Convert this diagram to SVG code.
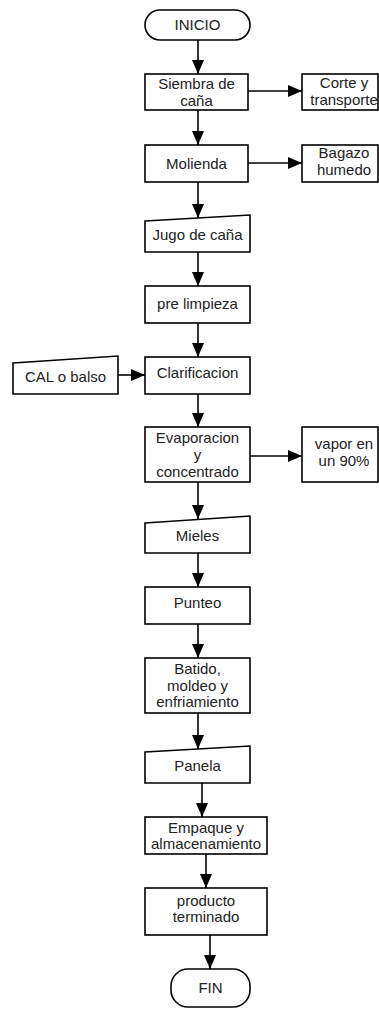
<svg xmlns="http://www.w3.org/2000/svg" width="379" height="1009" viewBox="0 0 379 1009">
<style>
.s{fill:#fff;stroke:#000;stroke-width:1.6}
.t{font-family:"Liberation Sans",Arial,sans-serif;font-size:15px;fill:#222;text-anchor:middle}
.c line{stroke:#000;stroke-width:1.6;marker-end:url(#ah)}
</style>
<defs>
<marker id="ah" markerUnits="userSpaceOnUse" markerWidth="14" markerHeight="12" refX="14" refY="6" orient="auto">
<path d="M0,0 L14,6 L0,12 z" fill="#000"/>
</marker>
</defs>
<rect width="379" height="1009" fill="#fff"/>
<g class="c" id="connectors">
<line x1="198" y1="40" x2="198" y2="74"/>
<line x1="198" y1="110" x2="198" y2="145"/>
<line x1="198" y1="182" x2="198" y2="218"/>
<line x1="198" y1="252" x2="198" y2="286"/>
<line x1="198" y1="323" x2="198" y2="357"/>
<line x1="198" y1="394" x2="198" y2="427"/>
<line x1="198" y1="482" x2="198" y2="519"/>
<line x1="198" y1="553" x2="198" y2="587"/>
<line x1="198" y1="624" x2="198" y2="658"/>
<line x1="198" y1="713" x2="198" y2="749"/>
<line x1="202" y1="783" x2="202" y2="817"/>
<line x1="206" y1="854" x2="206" y2="888"/>
<line x1="210" y1="935" x2="210" y2="969"/>
<line x1="248" y1="91" x2="302" y2="91"/>
<line x1="248" y1="163" x2="302" y2="163"/>
<line x1="118" y1="375" x2="145" y2="375"/>
<line x1="250" y1="456" x2="302" y2="456"/>
</g>
<g id="inicio"><rect class="s" x="145" y="10" width="105" height="30" rx="15"/><text class="t" x="197.5" y="30">INICIO</text></g>
<g id="siembra"><rect class="s" x="145" y="74" width="103" height="36"/><text class="t" x="196.5" y="89">Siembra de</text><text class="t" x="196.5" y="106">caña</text></g>
<g id="corte"><rect class="s" x="302" y="74" width="76" height="36"/><text class="t" x="344" y="88">Corte y</text><text class="t" x="344" y="105">transporte</text></g>
<g id="molienda"><rect class="s" x="145" y="145" width="103" height="37"/><text class="t" x="196.5" y="169">Molienda</text></g>
<g id="bagazo"><rect class="s" x="302" y="145" width="76" height="37"/><text class="t" x="344" y="158">Bagazo</text><text class="t" x="344" y="175">humedo</text></g>
<g id="jugo"><path class="s" d="M145,221 L250,215 L250,252 L145,252 Z"/><text class="t" x="197.5" y="240">Jugo de caña</text></g>
<g id="prelimpieza"><rect class="s" x="145" y="286" width="105" height="37"/><text class="t" x="197.5" y="309">pre limpieza</text></g>
<g id="clarificacion"><rect class="s" x="145" y="357" width="105" height="37"/><text class="t" x="197.5" y="378">Clarificacion</text></g>
<g id="cal"><path class="s" d="M13,363 L118,356 L118,394 L13,394 Z"/><text class="t" x="65.5" y="382">CAL o balso</text></g>
<g id="evaporacion"><rect class="s" x="145" y="427" width="105" height="55"/><text class="t" x="197.5" y="443">Evaporacion</text><text class="t" x="197.5" y="460">y</text><text class="t" x="197.5" y="477">concentrado</text></g>
<g id="vapor"><rect class="s" x="302" y="427" width="76" height="55"/><text class="t" x="344" y="449">vapor en</text><text class="t" x="344" y="466">un 90%</text></g>
<g id="mieles"><path class="s" d="M145,523 L250,516 L250,553 L145,553 Z"/><text class="t" x="197.5" y="541">Mieles</text></g>
<g id="punteo"><rect class="s" x="145" y="587" width="105" height="37"/><text class="t" x="197.5" y="608">Punteo</text></g>
<g id="batido"><rect class="s" x="145" y="658" width="105" height="55"/><text class="t" x="197.5" y="674">Batido,</text><text class="t" x="197.5" y="691">moldeo y</text><text class="t" x="197.5" y="707">enfriamiento</text></g>
<g id="panela"><path class="s" d="M145,752 L250,746 L250,783 L145,783 Z"/><text class="t" x="197.5" y="771">Panela</text></g>
<g id="empaque"><rect class="s" x="145" y="817" width="122" height="37"/><text class="t" x="206" y="833">Empaque y</text><text class="t" x="206" y="849">almacenamiento</text></g>
<g id="producto"><rect class="s" x="145" y="888" width="122" height="47"/><text class="t" x="206" y="906">producto</text><text class="t" x="206" y="922">terminado</text></g>
<g id="fin"><rect class="s" x="171" y="969" width="79" height="38" rx="17"/><text class="t" x="210.5" y="993">FIN</text></g>
</svg>
